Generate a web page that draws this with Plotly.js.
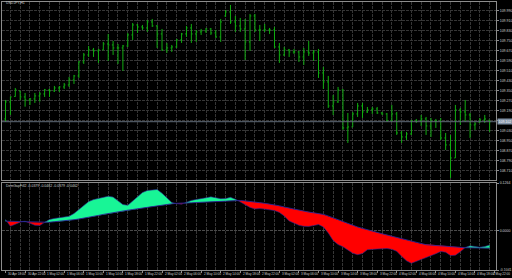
<!DOCTYPE html>
<html><head><meta charset="utf-8">
<script src="https://cdn.plot.ly/plotly-3.0.1.min.js"></script>
<style>html,body{margin:0;padding:0;background:#000;}#chart{width:512px;height:278px;}</style>
</head><body><div id="chart"></div>
<script>
// ---- data ----
const symbolLabel = "USDJPY,H1";
const indicatorLabel = "DemGapFill2 -0.0379 -0.0462 -0.0379 -0.0462";
const opens = [109.124,109.260,109.304,109.348,109.300,109.276,109.284,109.308,109.324,109.356,
109.348,109.372,109.380,109.396,109.436,109.468,109.580,109.636,109.676,109.668,
109.676,109.724,109.716,109.692,109.692,109.708,109.796,109.876,109.860,109.852,
109.900,109.868,109.804,109.676,109.692,109.700,109.756,109.804,109.852,109.804,
109.820,109.828,109.844,109.812,109.780,109.948,109.980,109.900,109.868,109.844,
109.740,109.948,109.836,109.836,109.836,109.836,109.700,109.636,109.676,109.660,
109.660,109.620,109.660,109.652,109.660,109.492,109.420,109.228,109.260,109.356,
109.052,109.060,109.164,109.228,109.180,109.196,109.204,109.172,109.164,109.108,
109.164,109.012,108.980,109.004,109.108,109.108,109.124,109.068,109.108,109.108,
108.972,108.916,108.812,109.196,109.180,109.156,109.076,109.096,109.116,109.114];
const highs = [109.276,109.302,109.372,109.348,109.332,109.292,109.332,109.340,109.364,109.364,
109.388,109.388,109.412,109.460,109.476,109.588,109.652,109.708,109.692,109.684,
109.740,109.804,109.748,109.724,109.716,109.812,109.892,109.884,109.876,109.916,
109.924,109.876,109.844,109.732,109.716,109.764,109.812,109.868,109.884,109.836,
109.844,109.852,109.852,109.836,109.924,109.996,110.036,109.948,109.932,109.924,
109.964,109.964,109.876,109.884,109.852,109.860,109.732,109.700,109.684,109.684,
109.668,109.692,109.748,109.676,109.684,109.540,109.468,109.316,109.380,109.364,
109.172,109.180,109.252,109.252,109.220,109.220,109.220,109.180,109.172,109.236,
109.180,109.028,109.020,109.116,109.124,109.156,109.140,109.132,109.124,109.132,
109.012,108.996,109.236,109.212,109.276,109.172,109.100,109.132,109.156,109.116];
const lows = [109.102,109.156,109.302,109.276,109.222,109.236,109.252,109.262,109.300,109.300,
109.340,109.340,109.364,109.380,109.404,109.452,109.564,109.620,109.620,109.572,
109.676,109.588,109.636,109.564,109.508,109.700,109.756,109.812,109.836,109.820,
109.860,109.692,109.668,109.652,109.660,109.692,109.732,109.780,109.732,109.740,
109.796,109.812,109.796,109.772,109.740,109.940,109.884,109.820,109.820,109.596,
109.668,109.820,109.748,109.820,109.804,109.692,109.572,109.628,109.620,109.644,
109.580,109.556,109.628,109.588,109.452,109.364,109.212,109.156,109.252,109.036,
108.932,109.060,109.140,109.132,109.172,109.164,109.164,109.156,109.100,109.100,
108.996,108.932,108.956,108.996,109.092,109.068,108.996,108.980,109.052,108.956,
108.876,108.652,108.812,109.076,109.100,108.972,109.036,109.092,109.092,109.020];
const closes = [109.260,109.300,109.356,109.300,109.276,109.284,109.308,109.324,109.356,109.348,
109.372,109.380,109.396,109.436,109.468,109.580,109.636,109.676,109.668,109.676,
109.724,109.716,109.692,109.692,109.708,109.796,109.876,109.860,109.852,109.900,
109.868,109.804,109.676,109.692,109.700,109.756,109.804,109.852,109.804,109.820,
109.828,109.844,109.812,109.780,109.900,109.980,109.900,109.868,109.844,109.740,
109.948,109.836,109.836,109.836,109.836,109.700,109.636,109.676,109.660,109.660,
109.620,109.660,109.652,109.660,109.492,109.420,109.228,109.260,109.356,109.052,
109.060,109.164,109.228,109.180,109.196,109.204,109.172,109.164,109.108,109.164,
109.012,108.980,109.004,109.108,109.108,109.124,109.068,109.108,109.108,108.972,
108.916,108.812,109.196,109.180,109.156,109.076,109.084,109.116,109.124,109.102];
const fastLine = [0.0297,0.0117,0.0170,0.0231,0.0252,0.0191,0.0143,0.0138,0.0225,0.0297,
0.0326,0.0345,0.0355,0.0382,0.0456,0.0559,0.0665,0.0771,0.0824,0.0853,
0.0888,0.0914,0.0890,0.0798,0.0694,0.0673,0.0782,0.0912,0.1012,0.1065,
0.1084,0.1092,0.0994,0.0864,0.0750,0.0718,0.0702,0.0755,0.0803,0.0829,
0.0843,0.0872,0.0898,0.0867,0.0848,0.0851,0.0885,0.0835,0.0766,0.0686,
0.0617,0.0578,0.0586,0.0572,0.0559,0.0533,0.0485,0.0390,0.0257,0.0196,
0.0143,0.0117,0.0114,0.0135,0.0164,0.0098,-0.0061,-0.0262,-0.0368,-0.0424,
-0.0517,-0.0596,-0.0636,-0.0604,-0.0504,-0.0485,-0.0485,-0.0480,-0.0472,-0.0493,
-0.0546,-0.0678,-0.0798,-0.0864,-0.0814,-0.0766,-0.0723,-0.0676,-0.0610,-0.0549,
-0.0570,-0.0660,-0.0649,-0.0559,-0.0445,-0.0400,-0.0421,-0.0437,-0.0419,-0.0379];
const slowLine = [0.0252,0.0249,0.0244,0.0239,0.0233,0.0228,0.0223,0.0217,0.0215,0.0225,
0.0239,0.0249,0.0260,0.0273,0.0292,0.0310,0.0329,0.0355,0.0379,0.0405,
0.0432,0.0458,0.0482,0.0506,0.0525,0.0543,0.0562,0.0583,0.0602,0.0623,
0.0644,0.0663,0.0681,0.0700,0.0713,0.0726,0.0726,0.0731,0.0739,0.0747,
0.0753,0.0761,0.0769,0.0776,0.0784,0.0787,0.0792,0.0798,0.0800,0.0790,
0.0779,0.0771,0.0742,0.0726,0.0710,0.0692,0.0660,0.0628,0.0599,0.0567,
0.0541,0.0517,0.0493,0.0474,0.0453,0.0432,0.0390,0.0345,0.0299,0.0252,
0.0199,0.0146,0.0098,0.0058,0.0019,-0.0021,-0.0050,-0.0082,-0.0114,-0.0146,
-0.0178,-0.0212,-0.0246,-0.0281,-0.0313,-0.0347,-0.0371,-0.0382,-0.0395,-0.0408,
-0.0416,-0.0421,-0.0429,-0.0440,-0.0451,-0.0453,-0.0453,-0.0456,-0.0456,-0.0462];
const priceTicks = [109.990,109.910,109.830,109.750,109.670,109.590,109.510,109.430,109.350,
109.270,109.190,109.110,109.030,108.950,108.870,108.790,108.710];
const indTicks = [0.1264, 0.0000, -0.1041];
const timeTickBars = [0,4,8,12,16,20,24,28,32,36,40,44,48,52,56,60,64,68,72,76,80,84,88,92,96,100];
const timeTickText = ["30 Apr 18:00","30 Apr 22:00","1 May 02:00","1 May 06:00","1 May 10:00","1 May 14:00",
"1 May 18:00","1 May 22:00","2 May 02:00","2 May 06:00","2 May 10:00","2 May 14:00","2 May 18:00",
"2 May 22:00","3 May 02:00","3 May 06:00","3 May 10:00","3 May 14:00","3 May 18:00","3 May 22:00",
"4 May 02:00","4 May 06:00","4 May 10:00","4 May 14:00","4 May 18:00","4 May 22:00"];

// ---- build ----
const n = closes.length;
const idx = Array.from({length:n},(_,i)=>i);
const bid = closes[n-1];
const FONT = "Liberation Sans, Arial, sans-serif";
const TXT = "#d0d0d0", GRID = "#363636", BORDER = "#8c8c8c";
const GREEN = "#18f596", RED = "#ff0000", LINEC = "#2c2394";

const traces = [];
traces.push({type:'ohlc', x:idx, open:opens, high:highs, low:lows, close:closes,
  xaxis:'x', yaxis:'y', tickwidth:0.25,
  increasing:{line:{color:'#10ac10', width:1}}, decreasing:{line:{color:'#10ac10', width:1}},
  hoverinfo:'skip', showlegend:false});

// fill segments between fast and slow
const segs = [];
let cur = {x:[], f:[], s:[], pos:null};
for (let i=0;i<n;i++){
  const d = fastLine[i]-slowLine[i], pos = d>=0;
  if (i>0){
    const dp = fastLine[i-1]-slowLine[i-1];
    if ((dp>=0)!==pos){
      const t = dp/(dp-d), xc = i-1+t, yc = slowLine[i-1]+t*(slowLine[i]-slowLine[i-1]);
      cur.x.push(xc); cur.f.push(yc); cur.s.push(yc); segs.push(cur);
      cur = {x:[xc], f:[yc], s:[yc], pos:pos};
    }
  }
  if (cur.pos===null) cur.pos = pos;
  cur.x.push(i); cur.f.push(fastLine[i]); cur.s.push(slowLine[i]);
}
segs.push(cur);
segs.forEach(sg=>{
  traces.push({type:'scatter', mode:'lines', xaxis:'x2', yaxis:'y2',
    x: sg.x.concat(sg.x.slice().reverse()), y: sg.f.concat(sg.s.slice().reverse()),
    fill:'toself', fillcolor: sg.pos?GREEN:RED, line:{width:0}, hoverinfo:'skip', showlegend:false});
});
traces.push({type:'scatter', mode:'lines', x:idx, y:slowLine, xaxis:'x2', yaxis:'y2',
  line:{color:LINEC, width:0.9}, hoverinfo:'skip', showlegend:false});
traces.push({type:'scatter', mode:'lines', x:idx, y:fastLine, xaxis:'x2', yaxis:'y2',
  line:{color:LINEC, width:0.6}, hoverinfo:'skip', showlegend:false});

const xr = [-0.72, 100.3];
const xcommon = {range:xr, showline:true, mirror:true, linecolor:BORDER, linewidth:1,
  zeroline:false, showgrid:false, fixedrange:true,
  minor:{tick0:1, dtick:2, showgrid:true, gridcolor:GRID, griddash:'3px,1px', gridwidth:1, ticks:''}};

const annotations = [
  {xref:'paper', yref:'paper', x:4/512, y:1-3/278, xanchor:'left', yanchor:'middle', text:symbolLabel,
   showarrow:false, font:{family:FONT, size:3.5, color:TXT}},
  {xref:'paper', yref:'paper', x:4/512, y:1-186/278, xanchor:'left', yanchor:'middle', text:indicatorLabel,
   showarrow:false, font:{family:FONT, size:3.5, color:TXT}},
  {xref:'paper', yref:'y', x:497/512, y:bid, xanchor:'left', yanchor:'middle', text:bid.toFixed(3),
   showarrow:false, bgcolor:'#8091a5', borderpad:0.5, font:{family:FONT, size:3.5, color:'#ffffff'}}
];
timeTickBars.forEach((b,k)=>{
  const last = k===timeTickBars.length-1;
  annotations.push({xref: last?'paper':'x2', yref:'paper', x: last?1:b, y:1-274/278,
    xanchor: last?'right':'left', yanchor:'middle', xshift: last?0:0.5,
    text:timeTickText[k], showarrow:false, font:{family:FONT, size:3.1, color:TXT}});
});

const layout = {
  width:512, height:278, margin:{l:0,r:0,t:0,b:0},
  paper_bgcolor:'#000', plot_bgcolor:'#000', showlegend:false, dragmode:false,
  xaxis: Object.assign({}, xcommon, {domain:[2/512, 496/512], anchor:'y', showticklabels:false, ticks:'',
    rangeslider:{visible:false}}),
  yaxis: {domain:[1-180/278, 1-2/278], range:[108.6356, 110.0596], side:'right', anchor:'x',
    tickvals:priceTicks, ticktext:priceTicks.map(v=>v.toFixed(3)),
    tickfont:{family:FONT, size:3.5, color:TXT}, ticks:'outside', ticklen:2, tickcolor:BORDER,
    showgrid:true, gridcolor:GRID, griddash:'3px,1px', gridwidth:1, zeroline:false,
    showline:true, mirror:true, linecolor:BORDER, linewidth:1, fixedrange:true},
  xaxis2: Object.assign({}, xcommon, {domain:[2/512, 496/512], anchor:'y2', showticklabels:false,
    tickvals:timeTickBars, ticks:'outside', ticklen:2, tickcolor:BORDER}),
  yaxis2: {domain:[1-270/278, 1-183/278], range:[-0.1041, 0.1264], side:'right', anchor:'x2',
    tickvals:indTicks, ticktext:indTicks.map(v=>v.toFixed(4)),
    tickfont:{family:FONT, size:3.5, color:TXT}, ticks:'outside', ticklen:2, tickcolor:BORDER,
    showgrid:true, gridcolor:'#4a4a4a', griddash:'3px,1px', gridwidth:1, zeroline:false,
    showline:true, mirror:true, linecolor:BORDER, linewidth:1, fixedrange:true},
  shapes:[
    {type:'line', xref:'x', yref:'y', x0:xr[0], x1:xr[1], y0:bid, y1:bid, line:{color:'#5f6b78', width:1}}
  ],
  annotations: annotations
};
Plotly.newPlot('chart', traces, layout, {staticPlot:true, displayModeBar:false});
</script>
</body></html>
